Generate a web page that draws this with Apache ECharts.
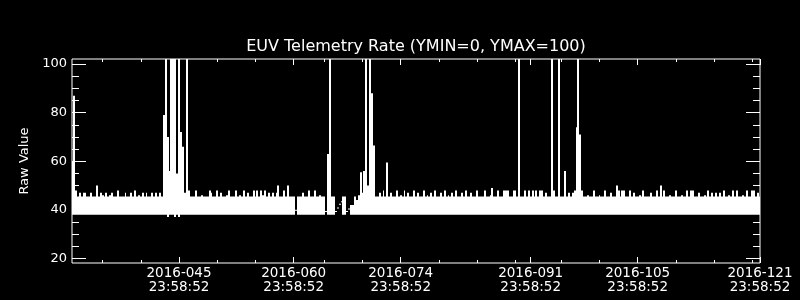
<!DOCTYPE html>
<html><head><meta charset="utf-8">
<script src="https://cdn.jsdelivr.net/npm/echarts@6/dist/echarts.min.js"></script>
<style>html,body{margin:0;background:#000}#c{width:800px;height:300px}</style>
</head><body><div id="c"></div><script>
const titleText = 'EUV Telemetry Rate (YMIN=0, YMAX=100)';
const yAxisName = 'Raw Value';
const sampleStartDay = 31;      // day-of-year of first sample
const sampleStepDay = 0.25;     // spacing of samples (days)
// max of each sample
const bandHi = [
60,87,48,45.5,47,45.5,47,47,45.5,45.5,47,45.5,45.5,50,45.5,47,46,45.5,47,45.5,
46,47,45.5,45.5,48,45.5,45.5,45.5,47,45.5,45.5,47,45.5,48,45.5,46,45.5,47,45.5,47,
45.5,45.5,47,45.5,47,45.5,47,45.5,79,150,70,56,150,150,150,55,150,72,66,47,
150,48,45.5,45.5,45.5,48,45.5,45.5,46,45.5,45.5,45.5,48,47,45.5,45.5,48,45.5,47,45.5,
45.5,46,48,45.5,45.5,45.5,48,45.5,46,45.5,48,45.5,47,45.5,45.5,48,45.5,48,45.5,48,
46,48,45.5,47,45.5,47,45.5,47,50,45.5,45.5,48,45.5,50,45.5,45.5,45.5,40,45.5,45.5,
45.5,47,45.5,45.5,48,45.5,45.5,48,45.5,45.5,46,45.5,45.5,39.5,63,150,45.5,45.5,39.5,41,
42.5,43.5,45.5,45.5,39.5,40.5,42,42,45.5,44,46,55.5,47,56,150,50,150,88,66.5,45.5,
45.5,47,45.5,48,45.5,59.5,45.5,47,45.5,45.5,48,45.5,46,45.5,48,45.5,47,45.5,45.5,48,
45.5,47,45.5,45.5,48,45.5,46,45.5,47,45.5,48,45.5,45.5,47,45.5,48,45.5,46,45.5,47,
45.5,48,45.5,45.5,47,45.5,48,45.5,45.5,47,45.5,45.5,48,45.5,45.5,45.5,48,45.5,45.5,46,
49,45.5,45.5,48,45.5,45.5,48,48,48,45.5,45.5,48,48,45.5,150,45.5,45.5,48,45.5,48,
45.5,48,45.5,48,45.5,48,48,45.5,47,45.5,45.5,150,48,45.5,45.5,150,45.5,45.5,56,45.5,
47,45.5,47,48,74,150,71,48,45.5,45.5,46,45.5,45.5,48,45.5,45.5,46,45.5,45.5,48,
45.5,45.5,47,45.5,45.5,50,48,45.5,48,48,45.5,45.5,48,45.5,47,45.5,45.5,46,45.5,48,
45.5,45.5,45.5,47,45.5,45.5,48,45.5,50,45.5,48,45.5,45.5,46,45.5,45.5,48,45.5,45.5,46,
45.5,45.5,48,45.5,48,48,45.5,45.5,47,45.5,45.5,46,45.5,48,45.5,47,45.5,47,45.5,47,
45.5,48,45.5,45.5,46,45.5,48,45.5,48,45.5,45.5,46,45.5,48,45.5,45.5,48,48,45.5,47,45.5
];
// min of each sample
const bandLo = [
38,38,38,38,38,38,38,38,38,38,38,38,38,38,38,38,38,38,38,38,
38,38,38,38,38,38,38,38,38,38,38,38,38,38,38,38,38,38,38,38,
38,38,38,38,38,38,38,38,38,38,37,38,38,38,37,38,37,38,38,38,
38,38,38,38,38,38,38,38,38,38,38,38,38,38,38,38,38,38,38,38,
38,38,38,38,38,38,38,38,38,38,38,38,38,38,38,38,38,38,38,38,
38,38,38,38,38,38,38,38,38,38,38,38,38,38,38,38,38,40,38,38,
38,38,38,38,38,38,38,38,38,38,38,38,38,39.5,38,38,38,38,39.5,41,
42.5,43.5,38,38,39.5,40.5,38,38,38,38,38,38,38,38,38,38,38,38,38,38,
38,38,38,38,38,38,38,38,38,38,38,38,38,38,38,38,38,38,38,38,
38,38,38,38,38,38,38,38,38,38,38,38,38,38,38,38,38,38,38,38,
38,38,38,38,38,38,38,38,38,38,38,38,38,38,38,38,38,38,38,38,
38,38,38,38,38,38,38,38,38,38,38,38,38,38,38,38,38,38,38,38,
38,38,38,38,38,38,38,38,38,38,38,38,38,38,38,38,38,38,38,38,
38,38,38,38,38,38,38,38,38,38,38,38,38,38,38,38,38,38,38,38,
38,38,38,38,38,38,38,38,38,38,38,38,38,38,38,38,38,38,38,38,
38,38,38,38,38,38,38,38,38,38,38,38,38,38,38,38,38,38,38,38,
38,38,38,38,38,38,38,38,38,38,38,38,38,38,38,38,38,38,38,38,
38,38,38,38,38,38,38,38,38,38,38,38,38,38,38,38,38,38,38,38,38
];
const xMin = 31, xMax = 121;
const xTickDays = [45, 60, 74, 91, 105, 121];
const xTickLabels = ['2016-045\n23:58:52','2016-060\n23:58:52','2016-074\n23:58:52','2016-091\n23:58:52','2016-105\n23:58:52','2016-121\n23:58:52'];
const xMinorDays = [35,40,50,55,64,69,79,84,89,95,100,110,115,120];
const yMin = 18.1, yMax = 102.1;
const yTickValues = [20,40,60,80,100];
const yMinorValues = [25,30,35,45,50,55,65,70,75,85,90,95];

const FONT = 'DejaVu Sans';
const data = bandHi.map((h, i) => [sampleStartDay + i * sampleStepDay, bandLo[i], h]);

function xAxisDef(pos, ticks, len, labels) {
  return {
    type: 'value', min: xMin, max: xMax, position: pos, gridIndex: 0,
    axisLine: {show: false, onZero: false}, splitLine: {show: false},
    axisTick: {show: true, inside: true, length: len, customValues: ticks, lineStyle: {color: '#fff', width: 1}},
    axisLabel: labels ? {show: true, customValues: xTickDays, color: '#fff', fontFamily: FONT, fontSize: 13.5,
      lineHeight: 13.5, margin: 4, formatter: v => xTickLabels[xTickDays.indexOf(v)] || ''} : {show: false}
  };
}
function yAxisDef(pos, ticks, len, labels) {
  const a = {
    type: 'value', min: yMin, max: yMax, position: pos, gridIndex: 0,
    axisLine: {show: false, onZero: false}, splitLine: {show: false},
    axisTick: {show: true, inside: true, length: len, customValues: ticks, lineStyle: {color: '#fff', width: 1}},
    axisLabel: labels ? {show: true, customValues: yTickValues, color: '#fff', fontFamily: FONT, fontSize: 13, margin: 5} : {show: false}
  };
  if (labels) {
    a.name = yAxisName; a.nameLocation = 'middle'; a.nameGap = 37; a.nameRotate = 90;
    a.nameTextStyle = {color: '#fff', fontFamily: FONT, fontSize: 13};
  }
  return a;
}

function renderItem(params, api) {
  const x = api.value(0), lo = api.value(1), hi = api.value(2);
  const top = api.coord([x, hi]);
  const bot = api.coord([x, lo]);
  const w = api.size([sampleStepDay, 0])[0];
  // snap horizontal edges to whole pixels so neighbouring samples join without seams
  const x0 = Math.round(top[0] - w / 2);
  const x1 = Math.round(top[0] + w / 2);
  const h = Math.max(bot[1] - top[1], 1);
  const cs = params.coordSys;
  const r = echarts.graphic.clipRectByRect(
    {x: x0, y: top[1], width: Math.max(x1 - x0, 1), height: h},
    {x: cs.x, y: cs.y, width: cs.width, height: cs.height});
  if (!r) return null;
  return {type: 'rect', shape: r, style: {fill: '#fff'}};
}

const chart = echarts.init(document.getElementById('c'), null, {renderer: 'canvas'});
chart.setOption({
  backgroundColor: '#000',
  animation: false,
  title: {text: titleText, left: 416, top: 39, textAlign: 'center', padding: 0,
    textStyle: {color: '#fff', fontFamily: FONT, fontSize: 16, fontWeight: 'normal'}},
  grid: {left: 72, right: 40, top: 59, bottom: 37, show: true, borderColor: '#fff', borderWidth: 1, backgroundColor: 'transparent', containLabel: false},
  xAxis: [xAxisDef('bottom', xTickDays, 6, true), xAxisDef('bottom', xMinorDays, 3, false),
          xAxisDef('top', xTickDays, 6, false), xAxisDef('top', xMinorDays, 3, false)],
  yAxis: [yAxisDef('left', yTickValues, 14, true), yAxisDef('left', yMinorValues, 7, false),
          yAxisDef('right', yTickValues, 14, false), yAxisDef('right', yMinorValues, 7, false)],
  series: [{
    type: 'custom', xAxisIndex: 0, yAxisIndex: 0, renderItem: renderItem,
    encode: {x: 0, y: [1, 2]}, data: data, z: 1
  }]
});
</script></body></html>
